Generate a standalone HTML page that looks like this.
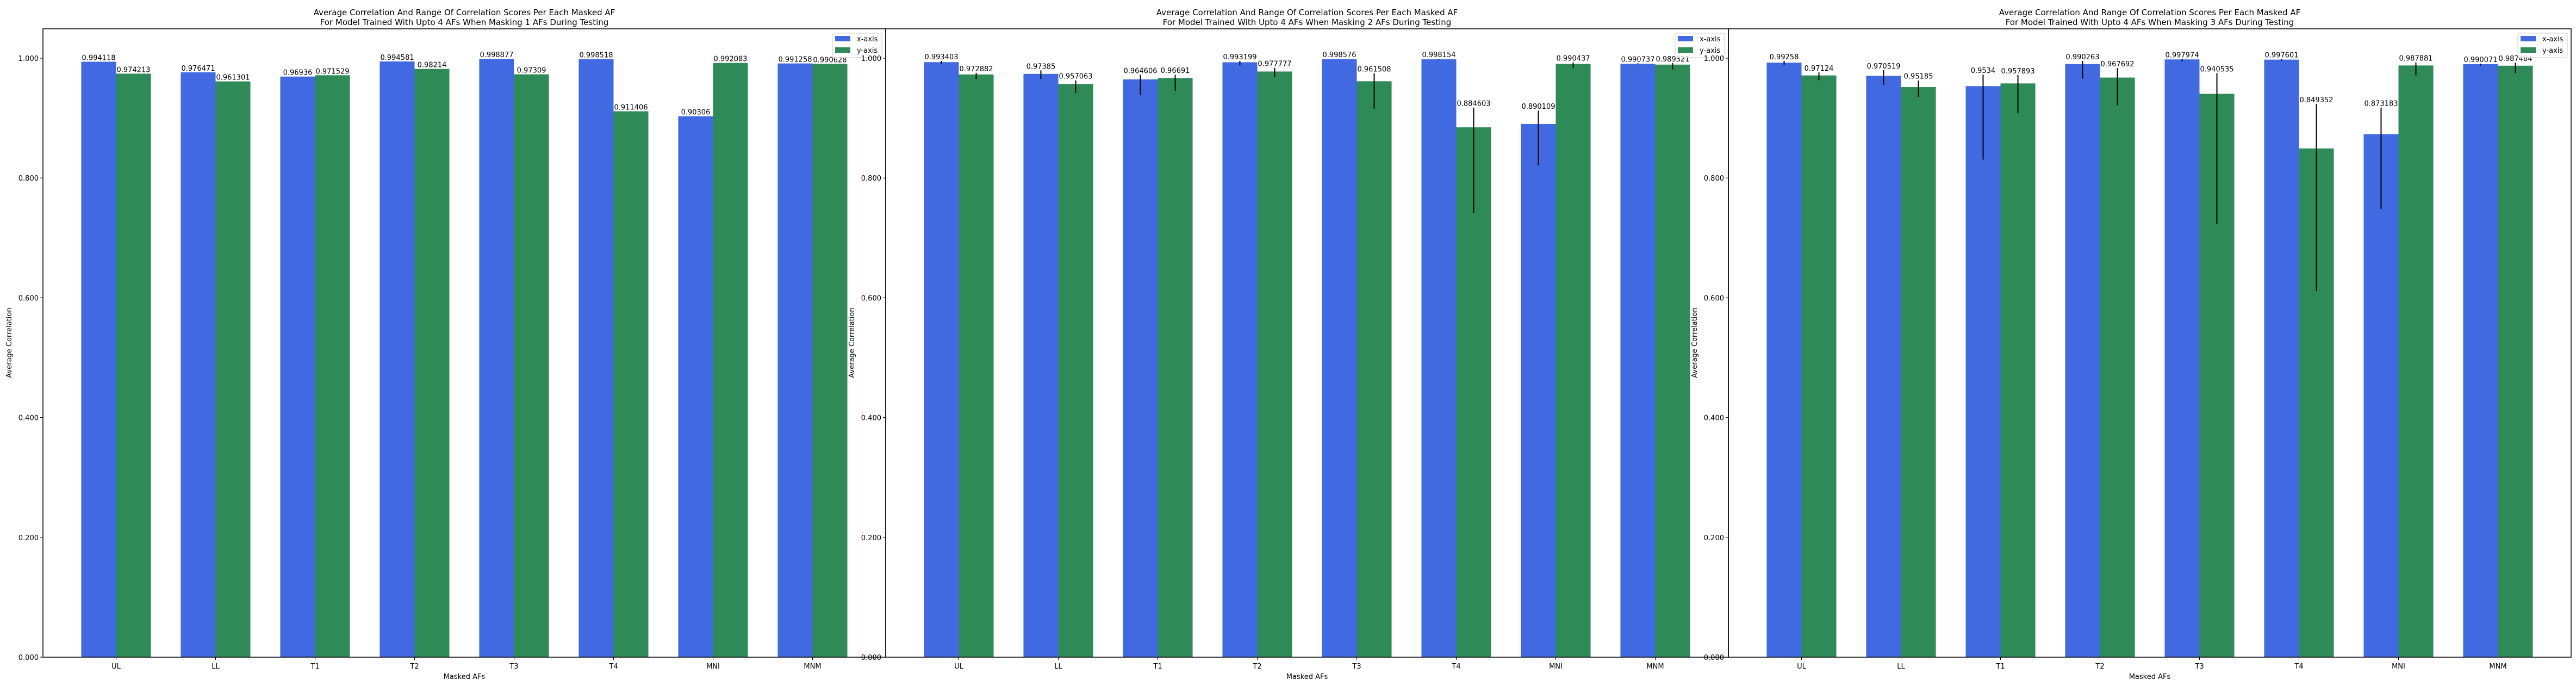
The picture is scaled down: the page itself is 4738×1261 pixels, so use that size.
<!DOCTYPE html>
<html><head><meta charset="utf-8"><style>
html,body{margin:0;padding:0;background:#fff;}
svg{display:block;font-family:"DejaVu Sans","Liberation Sans",sans-serif;}
</style></head><body>
<svg id="chart" width="4738" height="1261" viewBox="0 0 4738 1261" xmlns="http://www.w3.org/2000/svg"></svg>
<script>
const categories = ["UL","LL","T1","T2","T3","T4","MNI","MNM"];
const maskCounts = [1,2,3];
const xMeans1 = [0.994118,0.976471,0.96936,0.994581,0.998877,0.998518,0.90306,0.991258];
const yMeans1 = [0.974213,0.961301,0.971529,0.98214,0.97309,0.911406,0.992083,0.990628];
const xMeans2 = [0.993403,0.97385,0.964606,0.993199,0.998576,0.998154,0.890109,0.990737];
const yMeans2 = [0.972882,0.957063,0.96691,0.977777,0.961508,0.884603,0.990437,0.989321];
const xMeans3 = [0.99258,0.970519,0.9534,0.990263,0.997974,0.997601,0.873183,0.990071];
const yMeans3 = [0.97124,0.95185,0.957893,0.967692,0.940535,0.849352,0.987881,0.987484];
const xMax2 = [0.9955,0.9797,0.9724,0.9955,0.9990,0.9990,0.9126,0.9914];
const xMin2 = [0.9903,0.9655,0.9384,0.9880,0.9986,0.9977,0.8211,0.9898];
const yMax2 = [0.9755,0.9630,0.9726,0.9840,0.9749,0.9176,0.9930,0.9918];
const yMin2 = [0.9650,0.9419,0.9455,0.9686,0.9158,0.7415,0.9834,0.9813];
const xMax3 = [0.9955,0.9800,0.9726,0.9955,0.9986,0.9986,0.9176,0.9910];
const xMin3 = [0.9889,0.9556,0.8307,0.9658,0.9950,0.9959,0.7484,0.9877];
const yMax3 = [0.9763,0.9630,0.9718,0.9836,0.9749,0.9236,0.9930,0.9926];
const yMin3 = [0.9633,0.9354,0.9082,0.9213,0.7229,0.6114,0.9714,0.9750];
const yTicks = [0,0.2,0.4,0.6,0.8,1.0];
const yTickLabels = ["0.000","0.200","0.400","0.600","0.800","1.000"];

const panels = [
  {x:xMeans1,y:yMeans1,xmax:xMeans1,xmin:xMeans1,ymax:yMeans1,ymin:yMeans1,err:false},
  {x:xMeans2,y:yMeans2,xmax:xMax2,xmin:xMin2,ymax:yMax2,ymin:yMin2,err:true},
  {x:xMeans3,y:yMeans3,xmax:xMax3,xmin:xMin3,ymax:yMax3,ymin:yMin3,err:true}
];
const svg = document.getElementById('chart');
const NS = "http://www.w3.org/2000/svg";
function mk(tag, attrs, parent, text){
  const e = document.createElementNS(NS, tag);
  for (const k in attrs) e.setAttribute(k, attrs[k]);
  if (text !== undefined) e.textContent = text;
  parent.appendChild(e);
  return e;
}
const TOP=53, BOT=1208, PW=1550, LEFT0=79;
const yMaxLim = (BOT-TOP)/1101;
function yS(v){ return BOT - v/yMaxLim*(BOT-TOP); }
panels.forEach((p, pi) => {
  const L = LEFT0 + pi*PW, R = L + PW;
  const xmin=-0.735, xmax=7.735;
  const xS = v => L + (v - xmin)/(xmax - xmin)*(R - L);
  const g = mk('g', {}, svg);
  
  
  const bw = 0.35;
  categories.forEach((c, i) => {
    [[p.x, p.xmax, p.xmin, '#4169E1', -bw, 'x-axis'], [p.y, p.ymax, p.ymin, '#2E8B57', 0, 'y-axis']].forEach(s => {
      const v = s[0][i];
      const x0 = xS(i + s[4]), x1 = xS(i + s[4] + bw);
      const r = mk('rect', {x:x0, y:yS(v), width:x1-x0, height:BOT-yS(v), fill:s[3]}, g);
      
      
      const cx = (x0+x1)/2;
      let topV = v;
      if (p.err) {
        topV = Math.max(s[1][i], v);
        const el = mk('line', {x1:cx, x2:cx, y1:yS(topV), y2:yS(Math.min(s[2][i], v)), stroke:'#000', 'stroke-width':2}, g);
        
        
      }
      const t = mk('text', {x:cx, y:yS(topV)-3, 'text-anchor':'middle', 'font-size':13}, g, String(v));
      
      
    });
    const tx = xS(i);
    const tk = mk('line', {x1:tx, x2:tx, y1:BOT, y2:BOT+5, stroke:'#000', 'stroke-width':1}, g);
    
    
    const tl = mk('text', {x:tx, y:1229, 'text-anchor':'middle', 'font-size':13}, g, c);
    
    
  });
  yTicks.forEach((v, k) => {
    const ty = yS(v);
    const tk = mk('line', {x1:L-5, x2:L, y1:ty, y2:ty, stroke:'#000', 'stroke-width':1}, g);
    
    
    const tl = mk('text', {x:L-8, y:ty+5, 'text-anchor':'end', 'font-size':13}, g, yTickLabels[k]);
    
    
  });
  const fr = mk('rect', {x:L, y:TOP, width:R-L, height:BOT-TOP, fill:'none', stroke:'#000', 'stroke-width':1.5}, g);
  
  
  const cxp = (L+R)/2;
  const t1 = mk('text', {x:cxp, y:28, 'text-anchor':'middle', 'font-size':15}, g, 'Average Correlation And Range Of Correlation Scores Per Each Masked AF');
  
  
  const t2 = mk('text', {x:cxp, y:46, 'text-anchor':'middle', 'font-size':15}, g, 'For Model Trained With Upto 4 AFs When Masking ' + maskCounts[pi] + ' AFs During Testing');
  
  
  const xl = mk('text', {x:cxp, y:1248, 'text-anchor':'middle', 'font-size':13}, g, 'Masked AFs');
  
  
  const yl = mk('text', {x:0, y:0, 'text-anchor':'middle', 'font-size':13, transform:'translate(' + (L-58) + ',630) rotate(-90)'}, g, 'Average Correlation');
  
  
  const lg = mk('g', {}, g);
  
  
  mk('rect', {x:R-98, y:61, width:91, height:45, rx:3, fill:'#fff', 'fill-opacity':0.8, stroke:'#ccc'}, lg);
  mk('rect', {x:R-93, y:66, width:28, height:10, fill:'#4169E1'}, lg);
  mk('rect', {x:R-93, y:87, width:28, height:10, fill:'#2E8B57'}, lg);
  const le1 = mk('text', {x:R-53, y:76, 'font-size':13}, lg, 'x-axis');
  
  
  const le2 = mk('text', {x:R-53, y:97, 'font-size':13}, lg, 'y-axis');
  
  
});
</script>
</body></html>
